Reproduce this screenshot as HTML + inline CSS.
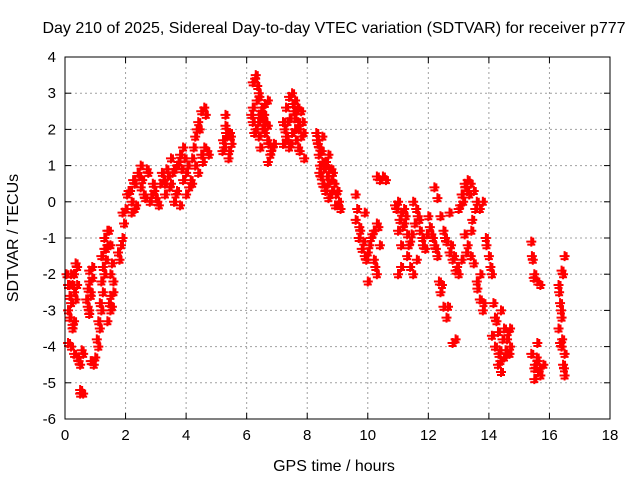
<!DOCTYPE html>
<html><head><meta charset="utf-8"><style>
body{margin:0;background:#fff}
svg{display:block;font-family:"Liberation Sans",sans-serif}
</style></head><body>
<svg id="c" width="640" height="480">
<rect width="640" height="480" fill="#fff"/>
<text x="334" y="33" font-size="16" text-anchor="middle">Day 210 of 2025, Sidereal Day-to-day VTEC variation (SDTVAR) for receiver p777</text>
<g id="grid"></g>
<g id="axes"></g>
<g id="pts"></g>
<rect x="65" y="57" width="545" height="362" fill="none" stroke="#000" stroke-width="1"/>
<text x="334" y="471" font-size="16" text-anchor="middle">GPS time / hours</text>
<text x="18" y="238" font-size="16" text-anchor="middle" transform="rotate(-90 18 238)">SDTVAR / TECUs</text>
</svg>
<script>
const xTicks=[0,2,4,6,8,10,12,14,16,18];
const yTicks=[-6,-5,-4,-3,-2,-1,0,1,2,3,4];
const times=[0.1,0.2,0.3,0.4,0.3,0.2,0.4,0.5,0.6,0.5,0.6,0.15,0.25,
0.7,0.8,0.9,0.8,0.9,1.0,0.75,0.85,
1.1,1.15,1.2,1.25,1.3,1.2,1.3,1.4,1.5,1.5,1.6,1.5,1.4,1.35,1.45,
1.8,1.9,1.9,2.0,1.85,
2.1,2.2,2.3,2.3,2.4,2.5,2.6,2.8,3.0,2.7,2.9,3.2,3.4,2.2,2.5,
3.1,3.3,3.5,3.6,3.7,3.8,3.9,3.5,3.7,3.9,4.0,4.0,3.8,3.6,3.3,
4.1,4.2,4.3,4.4,4.5,4.6,4.3,4.5,4.6,4.4,4.7,4.2,4.35,4.55,
5.2,5.3,5.35,5.4,5.5,5.3,5.25,5.45,
6.2,6.3,6.4,6.5,6.6,6.7,6.2,6.3,6.4,6.5,6.6,6.7,6.8,6.7,6.9,6.2,6.4,6.35,6.55,6.25,6.45,
7.2,7.3,7.4,7.5,7.6,7.7,7.3,7.4,7.5,7.6,7.8,7.9,7.7,7.8,7.2,7.35,7.55,7.65,
8.3,8.4,8.5,8.6,8.7,8.8,8.9,9.0,9.1,8.4,8.5,8.6,8.7,8.5,8.8,9.0,8.35,8.65,8.95,
9.6,9.6,9.7,9.8,9.9,10.0,10.1,10.2,10.3,10.4,9.9,10.2,10.3,10.0,9.75,
10.3,10.4,10.5,10.6,
10.9,11.0,11.1,11.2,11.3,11.0,11.1,11.3,11.4,11.5,11.6,11.7,11.8,11.9,11.5,11.4,11.0,11.1,11.2,11.65,
12.0,12.1,12.2,12.3,12.4,12.5,12.6,12.2,12.3,12.4,12.5,12.6,12.7,12.8,12.9,12.8,12.9,12.7,13.0,12.35,12.55,
13.0,13.1,13.2,13.3,13.4,13.5,13.6,13.7,13.2,13.3,13.4,13.5,13.6,13.7,13.8,13.1,13.9,14.0,14.1,13.8,13.45,13.25,
14.2,14.3,14.2,14.3,14.4,14.5,14.6,14.7,14.1,14.4,14.5,14.6,14.7,14.35,
15.4,15.5,15.6,15.7,15.4,15.5,15.6,15.7,15.5,15.8,15.6,15.45,
16.3,16.35,16.4,16.45,16.5,16.4,16.45,16.5,16.3,16.4,16.35,16.5,
0.05,0.1,0.15,0.2,0.25,0.3,0.35,0.35,0.4,0.15,0.25,0.1,0.3,0.45,0.55,0.5,
0.8,0.85,0.75,0.8,0.9,0.95,0.85,
1.05,1.1,1.15,1.2,1.25,1.3,1.35,1.4,1.45,1.55,1.6,1.5,1.55,
1.75,1.95,2.05,2.15,2.25,2.35,2.45,2.55,2.65,2.75,2.85,2.95,3.05,3.15,3.25,3.35,3.45,3.55,3.65,3.75,3.85,3.95,4.05,4.15,4.25,4.45,4.65,4.75,
5.22,5.32,5.42,5.48,
6.15,6.28,6.33,6.38,6.42,6.48,6.52,6.58,6.62,6.68,6.72,6.78,6.85,
7.25,7.32,7.42,7.45,7.52,7.58,7.62,7.68,7.72,7.75,7.85,7.88,
8.32,8.38,8.42,8.45,8.48,8.55,8.58,8.62,8.68,8.72,8.75,8.82,8.85,8.92,9.05,
9.65,9.72,9.85,9.95,10.05,10.15,10.25,10.35,
10.95,11.05,11.15,11.25,11.35,11.45,11.55,11.62,11.72,11.82,11.95,
12.05,12.15,12.25,12.45,12.65,12.75,12.85,12.95,
13.05,13.15,13.22,13.28,13.35,13.42,13.55,13.62,13.72,13.82,13.92,14.05,
14.15,14.25,14.32,14.38,14.45,14.55,14.62,14.68,
15.42,15.48,15.52,15.58,15.62,15.68,
16.32,16.38,16.42,16.48];
const values=[-3,-2,-2.5,-1.8,-3.3,-4,-4.3,-4.5,-4.2,-5.3,-5.3,-2.3,-3.5,
-2.7,-2.2,-1.8,-3,-4.4,-4.3,-2.4,-2.6,
-4,-3.5,-3,-2.5,-2,-1.5,-1,-0.8,-1.2,-2,-2.5,-3,-3.3,-1.3,-2.8,
-1.6,-1,-0.3,-0.2,-1.2,
0.3,0,-0.2,0.5,0.8,1,0.2,0,0.1,0.9,0.5,0.8,0.7,-0.3,0.4,
-0.1,0.2,0.5,0,1,1.3,1.5,1.2,0.3,0.6,0.8,0.2,-0.1,0.9,0.5,
0.4,1.2,1.8,2.2,2.5,2.6,1,1.3,1.5,0.8,1.4,0.5,2,1.1,
1.4,2.1,1.8,1.2,1.6,2.4,1.5,1.9,
3.3,3.5,3,2.6,2.7,2.8,2.2,2,1.8,2.3,1.9,2.1,1.4,1.1,1.6,2.6,2.4,3.2,2.1,1.9,1.5,
2.2,2.6,2.9,3,2.8,2.2,1.8,1.5,1.9,2,1.8,1.2,1.5,2.5,1.6,2.2,2.5,2.5,
1.9,1.5,1.1,1,1.3,0.9,0.5,0.3,-0.2,0.8,0.5,0.3,0.1,1.8,0.6,-0.1,1.6,0.7,0.2,
0.2,-0.5,-1,-1.3,-1.5,-1.4,-1,-0.8,-0.6,-1.2,-0.3,-1.6,-2,-2.2,-0.8,
0.7,0.6,0.7,0.6,
-0.1,0,-0.3,-0.6,-0.9,-0.8,-1.2,-1.5,-1.8,0,-0.2,-0.5,-1,-1.3,-2,-1.1,-2,-1.8,-0.2,-0.4,
-0.4,-0.9,-1.2,-1.5,-2.5,-2.9,-3.2,0.4,0.1,-0.4,-0.8,-1.1,-1.4,-1.6,-1.9,-3.9,-3.8,-0.3,-2,-2.2,-1,
-0.2,0.2,0.5,0.6,0.5,0.3,0,-0.2,-0.9,-1.2,-1.5,-1.7,-2.2,-2.7,-3,-1.6,-1,-1.5,-2,0,-0.5,-1.4,
-3.2,-3.6,-4,-4.5,-4.7,-4.3,-3.8,-3.5,-3.7,-3,-3.5,-4.2,-4,-4.1,
-1.1,-2,-2.2,-2.3,-4.2,-4.6,-4.4,-4.8,-4.9,-4.5,-3.9,-1.6,
-2.3,-2.8,-3.2,-2,-1.5,-4,-4.5,-4.8,-3.5,-1.9,-3.9,-4.2,
-2.0,-2.3,-2.6,-2.8,-2.3,-2.0,-1.7,-2.7,-2.3,-3.2,-3.4,-3.9,-4.2,-4.4,-4.1,-5.2,
-1.9,-2.5,-2.9,-3.1,-2.1,-4.5,-4.4,
-3.8,-3.3,-2.8,-2.2,-1.8,-1.3,-1.6,-1.2,-0.8,-1.7,-2.2,-2.6,-2.9,
-1.4,-0.6,0.2,0.3,0.6,-0.1,0.7,0.6,0.1,0.8,0.2,0.3,0.0,0.5,0.6,0.9,0.4,0.8,0.2,1.1,0.9,1.2,1.0,0.6,1.5,2.0,2.4,1.3,
1.7,1.9,1.4,1.8,
2.4,3.4,2.8,2.2,2.9,2.5,2.0,2.4,2.2,1.7,1.6,1.3,1.5,
2.0,1.7,2.3,1.6,2.7,2.3,1.7,2.6,2.0,1.4,2.2,1.9,
1.7,1.3,1.0,0.7,1.4,0.9,0.4,1.1,0.5,0.9,0.2,0.3,0.8,-0.1,0.0,
-0.2,-0.7,-1.1,-1.6,-1.2,-0.9,-1.8,-0.7,
-0.2,-0.5,-0.7,-0.4,-1.2,-0.9,-0.6,-1.6,-0.8,-1.2,-0.9,
-0.7,-1.0,-1.3,-2.3,-2.9,-1.2,-1.5,-1.8,
-0.1,0.0,0.4,0.3,0.2,-0.8,-0.2,-2.4,-2.0,-2.8,-1.2,-1.8,
-2.8,-3.3,-4.2,-4.4,-3.8,-4.1,-3.6,-4.2,
-1.5,-2.1,-4.5,-4.3,-4.7,-4.6,
-2.5,-3.0,-3.8,-4.6];
const X0=65,X1=610,Y0=419,Y1=57;
const sx=v=>X0+(v-0)/(18-0)*(X1-X0);
const sy=v=>Y0-(v+6)/(10)*(Y0-Y1);
const NS='http://www.w3.org/2000/svg';
function mk(t,a,p){const e=document.createElementNS(NS,t);for(const k in a)e.setAttribute(k,a[k]);p.appendChild(e);return e;}
const grid=document.getElementById('grid'),axes=document.getElementById('axes'),pts=document.getElementById('pts');
xTicks.forEach(t=>{const x=sx(t);
 if(t>0&&t<18){const l=mk('line',{x1:x,x2:x,y1:Y1,y2:Y0,stroke:'#a0a0a0','stroke-dasharray':'2,3'},grid);}
 mk('line',{x1:x,x2:x,y1:Y0,y2:Y0-6,stroke:'#000'},axes);mk('line',{x1:x,x2:x,y1:Y1,y2:Y1+6,stroke:'#000'},axes);
 const tx=mk('text',{x:x,y:Y0+21,'font-size':15,'text-anchor':'middle'},axes);tx.textContent=t;
 });
yTicks.forEach(t=>{const y=sy(t);
 if(t>-6&&t<4){const l=mk('line',{x1:X0,x2:X1,y1:y,y2:y,stroke:'#a0a0a0','stroke-dasharray':'2,3'},grid);}
 mk('line',{x1:X0,x2:X0+6,y1:y,y2:y,stroke:'#000'},axes);mk('line',{x1:X1,x2:X1-6,y1:y,y2:y,stroke:'#000'},axes);
 const tx=mk('text',{x:X0-9,y:y+5,'font-size':15,'text-anchor':'end'},axes);tx.textContent=t;
 });
times.forEach((t,i)=>{const x=sx(t),y=sy(values[i]);
 const p=mk('path',{d:`M${x-5},${y}h10M${x},${y-5}v10M${x-4},${y+3}h8M${x+2},${y-4}v8`,stroke:'#f00','stroke-width':2},pts);
 
 });
</script>
</body></html>
